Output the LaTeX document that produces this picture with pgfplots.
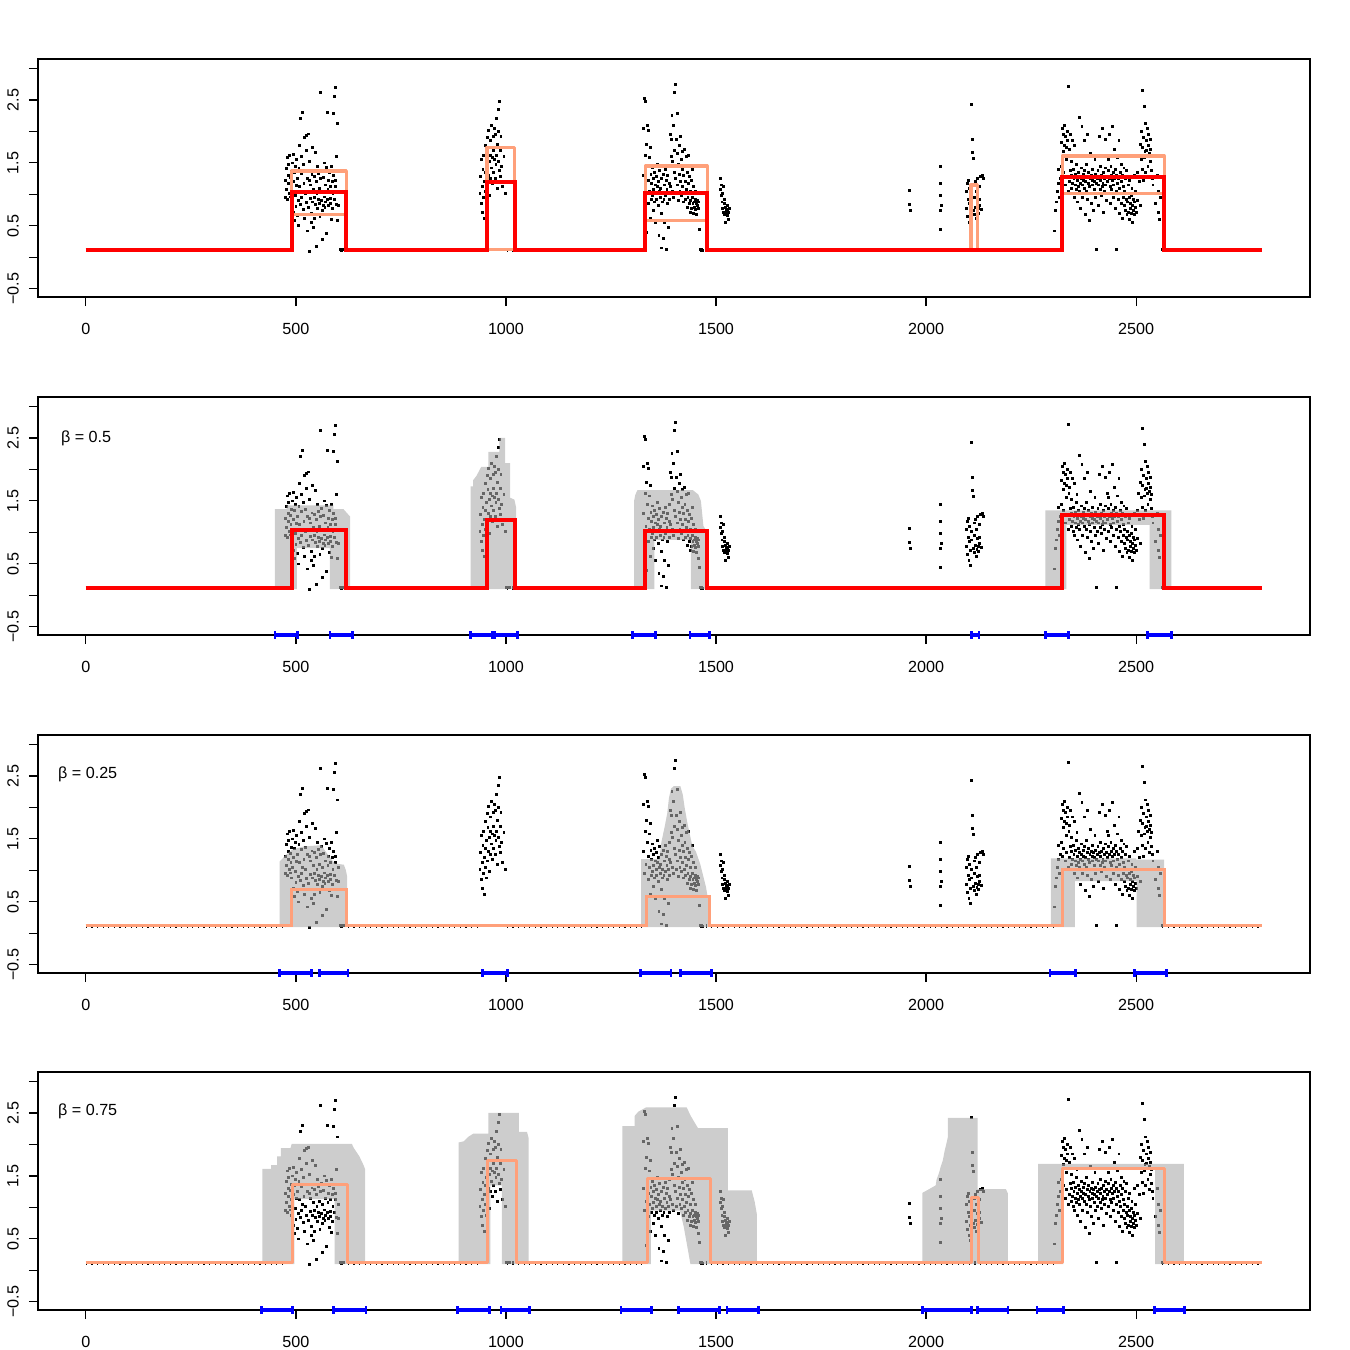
\documentclass[border=0pt]{standalone}
\usepackage{pgfplots}
\pgfplotsset{compat=1.18}
\usepackage{pgfplotstable}
\usepackage{fontspec}
\setmainfont{Liberation Sans}
\definecolor{salmon}{HTML}{FFA07A}
\definecolor{bandgray}{gray}{0.67}

\pgfplotstableread{
x y
474 0.95
476 1.22
477 1.41
478 1.08
479 1.58
480 0.92
481 1.30
482 1.18
483 1.47
484 1.02
485 1.62
486 0.96
487 1.27
488 1.12
489 1.37
490 0.88
491 1.50
492 1.05
493 0.72
494 1.63
495 1.20
496 0.58
497 1.35
498 0.98
499 1.44
500 0.81
501 1.14
502 1.56
503 0.66
504 1.25
505 0.50
506 0.90
507 1.41
508 1.78
509 1.12
510 0.84
511 2.20
512 1.33
513 0.95
514 1.60
515 1.05
516 2.30
517 0.76
518 1.48
519 1.18
520 0.62
521 1.90
522 1.36
523 1.02
524 0.87
525 1.70
526 1.93
527 1.25
528 0.42
529 1.96
530 0.80
531 1.22
532 0.10
533 1.52
534 0.93
535 1.15
536 0.70
537 0.55
538 1.31
539 0.88
540 1.74
541 1.08
542 0.47
543 0.95
544 1.28
545 0.62
546 1.66
547 0.84
548 1.20
549 0.18
550 1.02
551 0.78
552 1.45
553 0.92
554 1.33
555 0.86
556 1.10
557 0.65
558 2.62
559 1.25
560 0.90
561 1.38
562 0.74
563 0.28
564 1.05
565 0.83
566 1.27
567 0.96
568 1.50
569 0.79
570 1.15
571 0.88
572 0.38
573 1.43
574 0.92
575 2.30
576 1.08
577 0.82
578 1.22
579 0.68
580 1.35
581 0.94
582 1.12
583 0.85
584 1.45
585 0.60
586 1.20
587 0.78
588 1.02
589 2.28
590 1.30
591 0.92
592 2.55
593 1.12
594 2.70
595 1.22
596 0.84
597 1.60
598 2.12
599 0.58
600 1.05
602 0.82
605 0.12
607 0.13
609 0.11
611 0.12
613 0.12
938 1.02
940 1.28
941 0.85
942 1.55
943 1.12
944 0.72
945 1.40
946 0.95
947 1.62
948 1.20
949 0.62
950 1.35
951 1.05
952 1.78
953 0.88
954 1.48
955 1.90
956 1.15
957 1.68
958 1.30
959 2.02
960 1.52
961 0.98
962 1.85
963 1.25
964 1.62
965 1.42
966 2.10
967 1.58
968 1.18
969 1.92
970 1.70
971 1.35
972 2.05
973 1.55
974 1.25
975 1.95
976 1.48
977 2.20
978 1.62
979 1.10
980 1.80
981 2.00
982 1.52
983 2.35
984 1.38
985 2.48
986 1.70
987 1.28
988 1.92
990 1.45
992 1.12
995 1.60
998 1.02
1002 0.12
1005 0.12
1008 0.13
1327 2.05
1328 1.30
1329 2.53
1330 0.95
1331 1.62
1332 2.48
1333 1.10
1334 1.80
1335 0.40
1336 2.10
1337 1.45
1338 1.22
1339 2.02
1340 0.85
1341 1.58
1342 1.05
1343 1.75
1344 0.62
1345 1.32
1346 0.92
1347 1.18
1348 1.42
1349 0.98
1350 1.25
1351 0.75
1352 1.08
1353 1.35
1354 0.88
1355 1.15
1356 0.55
1357 1.02
1358 1.28
1359 0.92
1360 1.48
1361 1.12
1362 0.82
1363 1.20
1364 0.35
1365 1.05
1366 1.38
1367 0.95
1368 1.10
1369 0.70
1370 1.25
1371 0.15
1372 0.88
1373 1.02
1374 1.32
1375 0.30
1376 0.92
1377 1.15
1378 0.55
1379 1.40
1380 0.98
1381 0.12
1382 1.22
1383 1.08
1384 0.85
1385 1.30
1386 1.02
1387 0.48
1388 1.18
1389 0.92
1390 1.45
1391 1.95
1392 1.12
1393 1.88
1394 1.60
1395 2.25
1396 1.05
1397 1.52
1398 2.10
1399 0.95
1400 1.35
1401 2.62
1402 1.70
1403 2.75
1404 1.25
1405 1.88
1406 1.02
1407 1.65
1408 2.28
1409 1.15
1410 1.48
1411 0.90
1412 1.78
1413 1.32
1414 1.05
1415 1.92
1416 1.20
1417 1.55
1418 0.98
1419 1.40
1420 1.68
1421 1.12
1422 0.88
1423 1.30
1424 1.72
1425 1.02
1426 1.45
1427 0.92
1428 1.20
1429 1.60
1430 1.08
1431 0.80
1432 1.35
1433 0.95
1434 1.18
1435 1.62
1436 0.85
1437 1.28
1438 0.72
1439 1.05
1440 0.90
1441 1.22
1442 0.78
1443 0.95
1444 1.40
1445 0.85
1446 0.70
1447 1.12
1448 0.88
1449 0.80
1450 1.05
1451 0.92
1452 0.76
1453 0.85
1454 0.68
1455 0.90
1456 0.82
1457 0.58
1458 0.88
1459 0.78
1460 0.45
1462 0.12
1465 0.12
1468 0.11
1510 1.26
1511 1.08
1512 0.98
1513 1.15
1514 0.88
1515 1.02
1516 0.78
1517 1.12
1518 0.72
1519 0.85
1520 0.68
1521 0.92
1522 0.55
1523 0.80
1524 0.74
1525 0.70
1526 0.82
1527 0.66
1528 0.76
1529 0.72
1530 0.60
1532 0.78
1960 1.06
1961 0.84
1962 0.75
2034 1.44
2035 1.17
2035 0.99
2036 0.83
2035 0.75
2034 0.44
2096 1.05
2097 0.78
2098 1.18
2099 0.65
2100 0.92
2101 1.22
2102 0.55
2103 0.85
2104 1.10
2105 0.72
2106 0.48
2107 1.02
2108 2.43
2109 0.88
2110 1.88
2111 1.66
2112 1.57
2113 0.75
2114 1.15
2115 0.68
2116 0.95
2117 1.20
2118 0.80
2119 0.62
2120 1.05
2121 0.73
2122 0.90
2123 1.25
2124 0.78
2125 0.70
2126 1.12
2127 0.82
2128 0.92
2130 1.28
2132 0.76
2134 1.30
2136 1.26
2305 0.42
2308 0.74
2310 0.88
2312 1.05
2314 1.18
2316 1.39
2318 0.95
2320 1.25
2322 1.45
2323 1.82
2324 2.05
2325 1.22
2326 1.68
2327 1.95
2328 1.35
2329 2.10
2330 1.78
2331 1.15
2332 1.92
2333 1.55
2334 1.75
2335 1.28
2336 2.00
2337 1.85
2338 1.05
2339 2.72
2340 1.62
2341 1.20
2342 1.72
2343 1.38
2344 1.95
2345 1.10
2346 1.30
2347 1.52
2348 1.85
2349 1.18
2350 1.02
2351 1.40
2352 1.25
2353 1.78
2354 0.95
2355 1.32
2356 1.15
2357 1.48
2358 1.08
2359 1.60
2360 1.22
2361 0.88
2362 1.35
2363 1.12
2364 2.22
2365 1.28
2366 1.05
2367 1.18
2368 0.78
2369 1.42
2370 1.25
2371 2.08
2372 1.15
2373 0.95
2374 1.32
2375 1.22
2376 1.85
2377 1.10
2378 1.38
2379 0.68
2380 1.20
2381 1.48
2382 1.05
2383 1.28
2384 0.92
2385 1.95
2386 1.18
2387 1.35
2388 0.58
2389 1.12
2390 1.25
2391 1.65
2392 1.02
2393 1.30
2394 0.85
2395 1.22
2396 1.15
2397 1.40
2398 0.75
2399 1.28
2400 1.08
2401 1.20
2402 1.55
2403 0.95
2404 1.32
2405 1.18
2406 0.12
2407 1.25
2408 1.02
2409 1.38
2410 0.82
2411 1.15
2412 1.28
2413 1.92
2414 1.08
2415 1.22
2416 1.45
2417 0.98
2418 1.30
2419 1.12
2420 2.05
2421 1.18
2422 0.72
2423 1.35
2424 1.25
2425 1.05
2426 1.42
2427 1.88
2428 1.15
2429 0.90
2430 1.28
2431 1.62
2432 1.20
2433 1.38
2434 1.02
2435 1.55
2436 1.25
2437 1.95
2438 1.12
2439 0.85
2440 1.45
2441 1.30
2442 1.08
2443 2.08
2444 1.22
2445 0.95
2446 1.35
2447 1.15
2448 1.72
2449 1.25
2450 0.78
2451 1.40
2452 0.12
2453 1.05
2454 1.30
2455 1.18
2456 1.58
2457 0.92
2458 1.25
2459 1.85
2460 1.10
2461 0.70
2462 1.35
2463 1.02
2464 1.48
2465 0.85
2466 1.20
2467 0.62
2468 1.30
2469 0.95
2470 1.12
2471 1.42
2472 0.82
2473 1.05
2474 0.75
2475 1.25
2476 0.92
2477 1.38
2478 0.68
2479 1.02
2480 0.88
2481 1.15
2482 0.72
2483 0.95
2484 0.60
2485 1.22
2486 0.85
2487 0.78
2488 0.98
2489 0.70
2490 1.10
2491 0.82
2492 0.55
2493 0.92
2494 0.75
2495 1.30
2496 0.68
2497 0.88
2498 0.80
2499 1.05
2500 0.72
2502 1.35
2504 0.90
2506 1.62
2508 1.20
2510 1.80
2511 0.82
2512 1.55
2513 2.00
2514 1.40
2515 1.75
2516 2.65
2517 1.22
2518 1.90
2519 2.40
2520 1.58
2521 1.68
2522 2.12
2523 1.35
2524 1.85
2525 1.70
2526 2.05
2527 1.62
2528 1.45
2529 1.95
2530 1.78
2531 1.28
2532 1.65
2533 1.88
2534 1.52
2535 1.72
2536 1.38
2537 1.60
2538 1.25
2540 1.15
2545 0.85
2550 1.30
2552 0.72
2554 1.05
2556 0.60
2558 0.95
2562 0.12
2565 0.12
}\pts

\pgfplotsset{
  panel/.style={
    scale only axis, width=636bp, height=119bp,
    anchor=north west,
    xmin=-114, xmax=2914, ymin=-0.63, ymax=3.15,
    xtick={0,500,1000,1500,2000,2500},
    xticklabels={0,500,1000,1500,2000,2500},
    ytick={-0.5,0,0.5,1,1.5,2,2.5,3},
    yticklabels={−0.5,{},0.5,{},1.5,{},2.5,{}},
    scaled ticks=false,
    xtick pos=bottom, ytick pos=left,
    tick align=outside, major tick length=4.5bp,
    tick style={black, line width=0.6bp},
    axis line style={line width=0.8bp},
    tick label style={font=\fontsize{8.1}{9}\selectfont},
    xticklabel style={anchor=center, yshift=-11.5bp},
    yticklabel style={anchor=center, xshift=-8bp, rotate=90},
    /pgf/number format/assume math mode=true,
    clip=false, clip marker paths=true, unbounded coords=jump,
  },
  pts/.style={only marks, mark=square*, mark size=0.48bp, black, mark options={draw=none}},
  base/.style={black, line width=2.15bp, dash pattern=on 0.6bp off 2.2bp},
  band/.style={draw=none, fill=bandgray, fill opacity=0.6},
  ci/.style={blue, line width=1.6bp, mark=|, mark size=1.8bp, mark options={line width=1.4bp, solid}},
}
\tikzset{blab/.style={anchor=west, inner sep=0pt, font=\fontsize{8.1}{9}\selectfont}}

\begin{document}
\begin{tikzpicture}
% ---------- panel 1 ----------
\begin{axis}[panel, at={(19bp,-29.5bp)}]
\addplot[pts] table[x=x,y=y]{\pts};
\addplot[base] coordinates {(0,0.12)(475,0.12)(540,nan)(610,0.12)(938,0.12)(970,nan)(1002,0.12)(1326,0.12)(1400,nan)(1462,0.12)(2305,0.12)(2400,nan)(2562,0.12)(2800,0.12)};
\addplot[salmon, line width=1.6bp, line join=round] coordinates {(0,0.12)(490,0.12)(490,1.37)(620,1.37)(620,0.12)(955,0.12)(955,1.75)(1021,1.75)(1021,0.12)(1332,0.12)(1332,1.45)(1479,1.45)(1479,0.12)(2107,0.12)(2107,1.15)(2122,1.15)(2122,0.12)(2324,0.12)(2324,1.61)(2567,1.61)(2567,0.12)(2800,0.12)};
\addplot[salmon, line width=1.6bp] coordinates {(0,0.12)(490,0.12)(490,0.68)(620,0.68)(620,0.12)(1332,0.12)(1332,0.58)(1479,0.58)(1479,0.12)(2324,0.12)(2324,1.01)(2567,1.01)(2567,0.12)(2800,0.12)};
\addplot[red, line width=2bp] coordinates {(0,0.12)(490,0.12)(490,1.03)(620,1.03)(620,0.12)(955,0.12)(955,1.19)(1021,1.19)(1021,0.12)(1332,0.12)(1332,1.02)(1479,1.02)(1479,0.12)(2324,0.12)(2324,1.27)(2567,1.27)(2567,0.12)(2800,0.12)};
\end{axis}
% ---------- panel 2 ----------
\begin{axis}[panel, at={(19bp,-198.5bp)}]
\addplot[pts] table[x=x,y=y]{\pts};
\addplot[base] coordinates {(0,0.12)(475,0.12)(540,nan)(610,0.12)(938,0.12)(970,nan)(1002,0.12)(1326,0.12)(1400,nan)(1462,0.12)(2305,0.12)(2400,nan)(2562,0.12)(2800,0.12)};
\addplot[band] coordinates {(450,0.1)(450,1.37)(478,1.37)(478,1.43)(589,1.43)(589,1.37)(613,1.37)(629,1.25)(629,0.1)(581,0.1)(581,0.75)(502,0.75)(502,0.1)} -- cycle;
\addplot[band] coordinates {(916,0.1)(916,1.73)(922,1.73)(922,1.83)(930,1.9)(941,2.04)(958,2.04)(958,2.28)(984,2.28)(984,2.5)(998,2.5)(998,2.1)(1010,2.1)(1010,1.55)(1020,1.52)(1024,1.4)(1024,0.1)} -- cycle;
\addplot[band] coordinates {(1305,0.1)(1305,1.5)(1308,1.6)(1313,1.67)(1445,1.67)(1458,1.6)(1464,1.5)(1470,1.1)(1475,1.05)(1475,0.1)(1440,0.1)(1440,0.88)(1353,0.88)(1353,0.1)} -- cycle;
\addplot[band] coordinates {(2284,0.1)(2284,1.35)(2584,1.35)(2584,0.1)(2532,0.1)(2532,1.12)(2334,1.12)(2334,0.1)} -- cycle;
\addplot[red, line width=2bp] coordinates {(0,0.12)(490,0.12)(490,1.03)(620,1.03)(620,0.12)(955,0.12)(955,1.19)(1021,1.19)(1021,0.12)(1332,0.12)(1332,1.02)(1479,1.02)(1479,0.12)(2324,0.12)(2324,1.27)(2567,1.27)(2567,0.12)(2800,0.12)};
\addplot[ci] coordinates {(450,-0.63)(504,-0.63)(540,nan)(581,-0.63)(635,-0.63)(800,nan)(916,-0.63)(967,-0.63)(970,nan)(974,-0.63)(1027,-0.63)(1200,nan)(1301,-0.63)(1355,-0.63)(1400,nan)(1438,-0.63)(1484,-0.63)(1800,nan)(2108,-0.63)(2126,-0.63)(2200,nan)(2284,-0.63)(2339,-0.63)(2400,nan)(2528,-0.63)(2585,-0.63)};
\node[blab] at (axis cs:-60,2.50) {β = 0.5};
\end{axis}
% ---------- panel 3 ----------
\begin{axis}[panel, at={(19bp,-367.5bp)}]
\addplot[pts] table[x=x,y=y]{\pts};
\addplot[base] coordinates {(0,0.12)(475,0.12)(540,nan)(610,0.12)(938,0.12)(970,nan)(1002,0.12)(1326,0.12)(1400,nan)(1462,0.12)(2305,0.12)(2400,nan)(2562,0.12)(2800,0.12)};
\addplot[band] coordinates {(461,0.1)(461,1.14)(477,1.25)(491,1.33)(519,1.38)(560,1.40)(574,1.27)(592,1.11)(614,1.09)(619,1.0)(622,0.9)(622,0.1)} -- cycle;
\addplot[band] coordinates {(1322,0.1)(1322,1.18)(1365,1.18)(1370,1.45)(1378,1.7)(1384,1.91)(1388,2.15)(1393,2.3)(1400,2.34)(1415,2.34)(1421,2.2)(1425,2.01)(1432,1.75)(1440,1.5)(1444,1.38)(1452,1.3)(1462,1.11)(1470,0.9)(1476,0.74)(1482,0.5)(1487,0.2)(1487,0.1)} -- cycle;
\addplot[band] coordinates {(2297,0.1)(2297,1.19)(2500,1.19)(2500,1.17)(2567,1.17)(2567,0.1)(2501,0.1)(2501,0.83)(2354,0.83)(2354,0.1)} -- cycle;
\addplot[salmon, line width=1.5bp] coordinates {(0,0.12)(490,0.12)(490,0.69)(621,0.69)(621,0.12)(1335,0.12)(1335,0.59)(1485,0.59)(1485,0.12)(2324,0.12)(2324,1.01)(2567,1.01)(2567,0.12)(2800,0.12)};
\addplot[ci] coordinates {(461,-0.63)(537,-0.63)(545,nan)(557,-0.63)(624,-0.63)(800,nan)(944,-0.63)(1004,-0.63)(1200,nan)(1320,-0.63)(1393,-0.63)(1400,nan)(1416,-0.63)(1489,-0.63)(1800,nan)(2295,-0.63)(2356,-0.63)(2400,nan)(2496,-0.63)(2572,-0.63)};
\node[blab] at (axis cs:-67,2.53) {β = 0.25};
\end{axis}
% ---------- panel 4 ----------
\begin{axis}[panel, at={(19bp,-536bp)}]
\addplot[pts] table[x=x,y=y]{\pts};
\addplot[base] coordinates {(0,0.12)(475,0.12)(540,nan)(610,0.12)(938,0.12)(970,nan)(1002,0.12)(1326,0.12)(1400,nan)(1462,0.12)(2305,0.12)(2400,nan)(2562,0.12)(2800,0.12)};
\addplot[band] coordinates {(420,0.1)(420,1.61)(441,1.61)(441,1.67)(455,1.67)(455,1.81)(464,1.81)(464,1.94)(487,1.94)(490,2.01)(633,2.01)(638,1.94)(651,1.81)(661,1.67)(665,1.6)(665,0.1)(592,0.1)(592,1.13)(496,1.13)(496,0.1)} -- cycle;
\addplot[band] coordinates {(887,0.1)(887,2.03)(900,2.05)(910,2.12)(922,2.17)(958,2.17)(958,2.5)(1031,2.5)(1031,2.2)(1050,2.2)(1054,2.1)(1054,0.1)(990,0.1)(990,1.35)(963,1.35)(963,0.1)} -- cycle;
\addplot[band] coordinates {(1277,0.1)(1277,2.29)(1306,2.29)(1306,2.45)(1315,2.52)(1334,2.59)(1430,2.59)(1440,2.45)(1457,2.26)(1528,2.26)(1528,1.27)(1585,1.27)(1592,1.09)(1597,0.9)(1597,0.1)(1439,0.1)(1433,0.33)(1423,0.70)(1414,0.95)(1345,0.95)(1345,0.1)} -- cycle;
\addplot[band] coordinates {(1991,0.1)(1991,1.23)(2002,1.27)(2023,1.35)(2025,1.44)(2031,1.55)(2035,1.65)(2040,1.75)(2044,1.89)(2048,2.0)(2052,2.12)(2052,2.42)(2123,2.42)(2123,1.29)(2190,1.29)(2195,1.22)(2195,0.1)} -- cycle;
\addplot[band] coordinates {(2267,0.1)(2267,1.69)(2614,1.69)(2614,0.1)(2545,0.1)(2545,1.6)(2327,1.6)(2327,0.1)} -- cycle;
\addplot[salmon, line width=1.5bp, line join=round] coordinates {(0,0.12)(491,0.12)(491,1.37)(622,1.37)(622,0.12)(956,0.12)(956,1.75)(1025,1.75)(1025,0.12)(1336,0.12)(1336,1.46)(1487,1.46)(1487,0.12)(2109,0.12)(2109,1.16)(2124,1.16)(2124,0.12)(2324,0.12)(2324,1.62)(2567,1.62)(2567,0.12)(2800,0.12)};
\addplot[ci] coordinates {(418,-0.63)(491,-0.63)(540,nan)(590,-0.63)(667,-0.63)(800,nan)(885,-0.63)(960,-0.63)(970,nan)(988,-0.63)(1056,-0.63)(1200,nan)(1274,-0.63)(1347,-0.63)(1400,nan)(1411,-0.63)(1508,-0.63)(1515,nan)(1526,-0.63)(1601,-0.63)(1800,nan)(1991,-0.63)(2108,-0.63)(2115,nan)(2123,-0.63)(2195,-0.63)(2230,nan)(2264,-0.63)(2327,-0.63)(2400,nan)(2543,-0.63)(2615,-0.63)};
\node[blab] at (axis cs:-67,2.53) {β = 0.75};
\end{axis}
\pgfresetboundingbox
\path (0bp,0bp) rectangle (675bp,-675bp);
\end{tikzpicture}
\end{document}
